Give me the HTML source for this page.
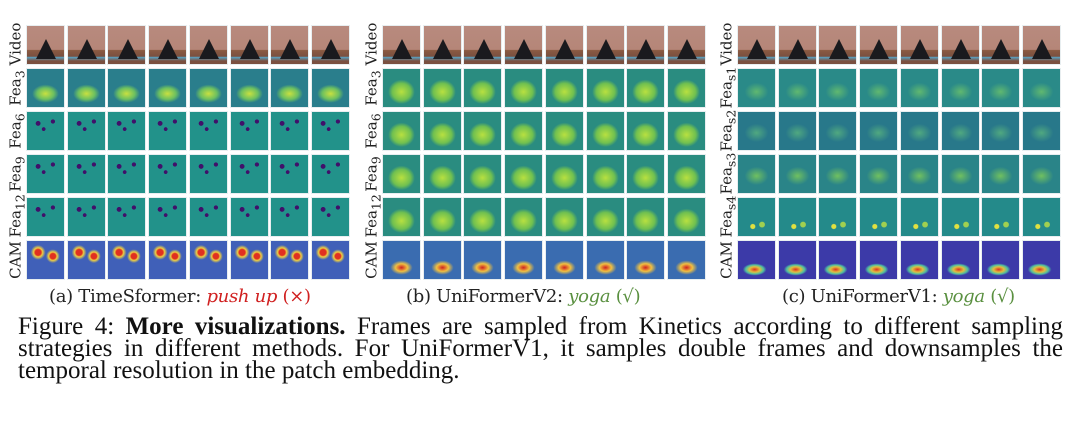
<!DOCTYPE html>
<html><head><meta charset="utf-8"><style>
html,body{margin:0;padding:0;background:#fff;width:1080px;height:424px;overflow:hidden;font-family:"Liberation Serif",serif}
.panel{position:absolute;top:25px}
.lab{position:absolute;width:41px;height:18px;line-height:18px;text-align:center;transform:rotate(-90deg);font-size:15px;color:#222;font-family:"DejaVu Serif","Liberation Serif",serif;white-space:nowrap}
.tile{position:absolute;top:0;width:39px;height:40px;border:1px solid #e8eef0;box-sizing:border-box;overflow:hidden}
.sub{position:absolute;top:286px;font-size:18px;color:#222;white-space:nowrap;font-family:"DejaVu Serif","Liberation Serif",serif;letter-spacing:-0.3px}
.red{color:#d02020;font-style:italic}.redp{color:#d02020}
.grn{color:#5a9040;font-style:italic}.grnp{color:#5a9040}
.cl{position:absolute;left:18px;width:1045px;font-size:25px;line-height:22px;height:22px;color:#111;white-space:nowrap}
.j{text-align:justify;text-align-last:justify}
</style></head><body>
<div id="root"></div>
<div class="sub" style="left:49px">(a) TimeSformer: <span class="red">push up</span> <span class="redp">(×)</span></div>
<div class="sub" style="left:406px">(b) UniFormerV2: <span class="grn">yoga</span> <span class="grnp">(√)</span></div>
<div class="sub" style="left:782px">(c) UniFormerV1: <span class="grn">yoga</span> <span class="grnp">(√)</span></div>
<div>
<div class="cl j" style="top:316px;white-space:normal">Figure 4: <b>More visualizations.</b> Frames are sampled from Kinetics according to different sampling</div>
<div class="cl j" style="top:338px;white-space:normal">strategies in different methods. For UniFormerV1, it samples double frames and downsamples the</div>
<div class="cl" style="top:360px">temporal resolution in the patch embedding.</div>
</div>
<script>
const panels=[
 {x:26,name:'panel-a',labels:['Video','Fea<sub>3</sub>','Fea<sub>6</sub>','Fea<sub>9</sub>','Fea<sub>12</sub>','CAM'],kinds:['video','feaA','purp','purp','purp','camA']},
 {x:382,name:'panel-b',labels:['Video','Fea<sub>3</sub>','Fea<sub>6</sub>','Fea<sub>9</sub>','Fea<sub>12</sub>','CAM'],kinds:['video','feaB','feaB','feaB','feaB','camB']},
 {x:737,name:'panel-c',labels:['Video','Fea<sub>s1</sub>','Fea<sub>s2</sub>','Fea<sub>s3</sub>','Fea<sub>s4</sub>','CAM'],kinds:['video','feaC','feaC2','feaC3','feaC4','camC']}
];
const rowY=[0,43,86,129,172,215];
const bg={
 video:'linear-gradient(#b88a7e 0%,#b58678 62%,#8a5a42 64%,#7a5040 80%,#5aa0c0 82%,#7a5040 92%)',
 feaA:'radial-gradient(ellipse 45% 30% at 50% 65%,#c8e040 0%,#6cc060 50%,transparent 80%),#2a7e8c',
 purp:'radial-gradient(circle at 30% 30%,#40106a 0 6%,transparent 7%),radial-gradient(circle at 70% 25%,#40106a 0 5%,transparent 6%),radial-gradient(circle at 45% 45%,#40106a 0 6%,transparent 7%),#22928a',
 camA:'radial-gradient(circle at 30% 30%,#e03020 0 8%,#f0d040 12%,transparent 20%),radial-gradient(circle at 70% 40%,#e03020 0 8%,#f0d040 12%,transparent 20%),#4060b8',
 feaB:'radial-gradient(ellipse 45% 40% at 50% 60%,#b8e040 0%,#70c050 55%,transparent 80%),#2a8c80',
 camB:'radial-gradient(ellipse 40% 25% at 50% 70%,#d02020 0%,#f0c040 40%,transparent 75%),#3a6cb0',
 feaC:'radial-gradient(ellipse 40% 30% at 50% 60%,#60b870 0%,transparent 80%),#2a8a88',
 feaC2:'radial-gradient(ellipse 40% 30% at 50% 55%,#50a880 0%,transparent 80%),#28788a',
 feaC3:'radial-gradient(ellipse 40% 30% at 50% 55%,#70c060 0%,transparent 80%),#2a8488',
 feaC4:'radial-gradient(circle at 40% 75%,#e0e040 0 6%,transparent 8%),radial-gradient(circle at 65% 70%,#a0d050 0 7%,transparent 9%),#248a8a',
 camC:'radial-gradient(ellipse 40% 20% at 45% 75%,#e03020 0%,#e0c040 35%,#50c0a0 60%,transparent 80%),#3c3aa8'
};
const root=document.getElementById('root');
panels.forEach(p=>{
 const pd=document.createElement('div');pd.className='panel';pd.style.left=p.x+'px';
 
 
 root.appendChild(pd);
 p.kinds.forEach((k,r)=>{
  const lab=document.createElement('div');lab.className='lab';lab.innerHTML=p.labels[r];
  lab.style.left=(-31)+'px';lab.style.top=(rowY[r]+11)+'px';
  
  
  pd.appendChild(lab);
  for(let i=0;i<8;i++){
   const t=document.createElement('div');t.className='tile';
   t.style.left=(i*40.7)+'px';t.style.top=rowY[r]+'px';t.style.background=bg[k];
   
   
   if(k==='video'){
     const f=document.createElement('div');
     f.style.cssText='position:absolute;left:25%;top:35%;width:0;height:0;border-left:10px solid transparent;border-right:10px solid transparent;border-bottom:20px solid #1a1a1e';
     
     
     t.appendChild(f);
   }
   pd.appendChild(t);
  }
 });
});
</script>
</body></html>
